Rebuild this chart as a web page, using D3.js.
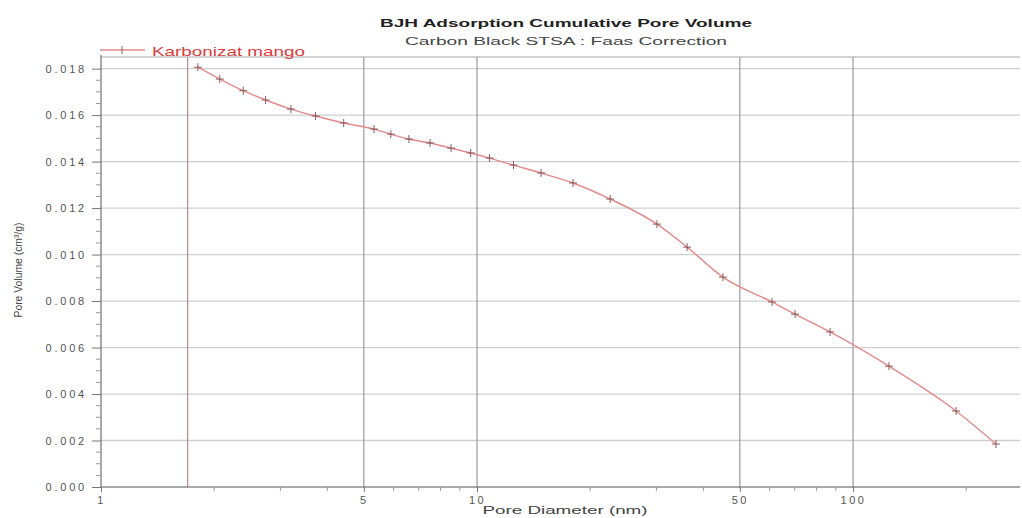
<!DOCTYPE html>
<html>
<head>
<meta charset="utf-8">
<script src="https://cdn.jsdelivr.net/npm/d3@7"></script>
<style>
  body { margin: 0; background: #fff; }
  text { font-family: "Liberation Sans", Arial, sans-serif; }
</style>
</head>
<body>
<svg id="chart" width="1022" height="518"></svg>
<script>
// pore diameter (nm) and cumulative pore volume (cm3/g)
const diameters = [1.81, 2.07, 2.39, 2.74, 3.20, 3.72, 4.42, 5.32, 5.90, 6.59, 7.50, 8.53, 9.62,
  10.8, 12.5, 14.8, 18.0, 22.6, 30.1, 36.2, 45.1, 60.9, 70.1, 86.9, 124.6, 187.9, 239.9];
const volumes = [0.01806, 0.01755, 0.01705, 0.01665, 0.01626, 0.01596, 0.01566, 0.01540, 0.01518,
  0.01497, 0.01480, 0.01458, 0.01437, 0.01415, 0.01385, 0.01351, 0.01308, 0.01239, 0.01131,
  0.01032, 0.00903, 0.00796, 0.00744, 0.00667, 0.00520, 0.00327, 0.00185];

const xLabelTicks = [1, 5, 10, 50, 100];
const xMinorTicks = [2, 3, 4, 6, 7, 8, 9, 20, 30, 40, 60, 70, 80, 90, 200];
const xGridTicks = [5, 10, 50, 100];
const markerDiameter = [1.7];   // the reddish vertical line
const yTicks = [0, 0.002, 0.004, 0.006, 0.008, 0.010, 0.012, 0.014, 0.016, 0.018];
const yMinorTicks = d3.range(0, 0.0185, 0.0005).filter(v => Math.abs(Math.round(v / 0.002) * 0.002 - v) > 1e-7);

const seriesName = "Karbonizat mango";
const title = "BJH Adsorption Cumulative Pore Volume";
const subtitle = "Carbon Black STSA : Faas Correction";

const svg = d3.select("#chart");
const mLeft = 101, mRight = 1020, mTop = 57, mBottom = 487;

const x = d3.scaleLog().domain([1, 278]).range([mLeft, mRight]);
const y = d3.scaleLinear().domain([0, 0.0185]).range([mBottom, mTop]);

const data = diameters.map((d, i) => ({ d: d, v: volumes[i] }));

// horizontal grid
svg.append("g")
  .selectAll("line")
  .data(yTicks.filter(v => v > 0))
  .enter().append("line")
  .attr("x1", mLeft).attr("x2", mRight)
  .attr("y1", d => y(d)).attr("y2", d => y(d))
  .attr("stroke", "#cfcfcf").attr("stroke-width", 1.3);

// top frame
svg.append("line")
  .attr("x1", mLeft).attr("x2", mRight)
  .attr("y1", mTop).attr("y2", mTop)
  .attr("stroke", "#c4c4c4").attr("stroke-width", 1.3);

// vertical grid
svg.append("g")
  .selectAll("line")
  .data(xGridTicks)
  .enter().append("line")
  .attr("x1", d => x(d)).attr("x2", d => x(d))
  .attr("y1", mTop).attr("y2", mBottom)
  .attr("stroke", "#9a9a9a").attr("stroke-width", 1.2);

svg.append("g")
  .selectAll("line")
  .data(markerDiameter)
  .enter().append("line")
  .attr("x1", d => x(d)).attr("x2", d => x(d))
  .attr("y1", mTop).attr("y2", mBottom)
  .attr("stroke", "#b98a8a").attr("stroke-width", 1.2);

// y axis
const yAxis = svg.append("g")
  .attr("transform", `translate(${mLeft},0)`)
  .call(d3.axisLeft(y).tickValues(yTicks).tickFormat(d3.format(".3f")).tickSize(9).tickPadding(5));
yAxis.select(".domain").attr("stroke", "#555").attr("d", `M0,${mTop - 2}V${mBottom}`);
yAxis.selectAll(".tick line").attr("stroke", "#777");
yAxis.selectAll("text").attr("fill", "#555").attr("font-size", 11).attr("letter-spacing", "2.8px");

svg.append("g")
  .attr("transform", `translate(${mLeft},0)`)
  .selectAll("line")
  .data(yMinorTicks)
  .enter().append("line")
  .attr("x1", -5).attr("x2", 0)
  .attr("y1", d => y(d)).attr("y2", d => y(d))
  .attr("stroke", "#999");

// x axis
const xAxis = svg.append("g")
  .attr("transform", `translate(0,${mBottom})`)
  .call(d3.axisBottom(x).tickValues(xLabelTicks).tickFormat(d3.format("d")).tickSize(5).tickPadding(4));
xAxis.select(".domain").attr("stroke", "#555").attr("d", `M${mLeft},0H${mRight}`);
xAxis.selectAll(".tick line").attr("stroke", "#777");
xAxis.selectAll("text").attr("fill", "#555").attr("font-size", 11).attr("letter-spacing", "2.5px");

svg.append("g")
  .attr("transform", `translate(0,${mBottom})`)
  .selectAll("line")
  .data(xMinorTicks)
  .enter().append("line")
  .attr("x1", d => x(d)).attr("x2", d => x(d))
  .attr("y1", 0).attr("y2", 4)
  .attr("stroke", "#999");

// series line
const line = d3.line()
  .x(d => x(d.d))
  .y(d => y(d.v))
  .curve(d3.curveMonotoneX);

svg.append("path")
  .datum(data)
  .attr("d", line)
  .attr("fill", "none")
  .attr("stroke", "#e48a8a")
  .attr("stroke-width", 1.4);

// plus markers
svg.append("g")
  .selectAll("path")
  .data(data)
  .enter().append("path")
  .attr("d", d => `M${x(d.d) - 4},${y(d.v)}h8M${x(d.d)},${y(d.v) - 4}v8`)
  .attr("stroke", "#8a5a5a")
  .attr("stroke-width", 1);

// legend
const legend = svg.append("g").attr("transform", "translate(100,50)");
legend.append("line").attr("x1", 0).attr("x2", 45).attr("y1", 0).attr("y2", 0)
  .attr("stroke", "#e48a8a").attr("stroke-width", 1.3);
legend.append("path").attr("d", "M22,-4v8").attr("stroke", "#8a5a5a");
legend.append("text").attr("x", 52).attr("y", 6)
  .attr("font-size", 13).attr("fill", "#e03a3a")
  .attr("textLength", 153).attr("lengthAdjust", "spacingAndGlyphs")
  .text(seriesName);

// titles
svg.append("text").attr("x", 566).attr("y", 27)
  .attr("text-anchor", "middle").attr("font-size", 11.5).attr("font-weight", "bold").attr("fill", "#222")
  .attr("textLength", 372).attr("lengthAdjust", "spacingAndGlyphs")
  .text(title);
svg.append("text").attr("x", 566).attr("y", 45)
  .attr("text-anchor", "middle").attr("font-size", 11.5).attr("fill", "#444")
  .attr("textLength", 322).attr("lengthAdjust", "spacingAndGlyphs")
  .text(subtitle);

// axis titles
svg.append("text").attr("x", 565).attr("y", 514)
  .attr("text-anchor", "middle").attr("font-size", 11.5).attr("fill", "#444")
  .attr("textLength", 165).attr("lengthAdjust", "spacingAndGlyphs")
  .text("Pore Diameter (nm)");
svg.append("text")
  .attr("transform", "translate(22,270) rotate(-90)")
  .attr("text-anchor", "middle").attr("font-size", 11.5).attr("fill", "#444")
  .attr("textLength", 95).attr("lengthAdjust", "spacingAndGlyphs")
  .text("Pore Volume (cm³/g)");
</script>
</body>
</html>
